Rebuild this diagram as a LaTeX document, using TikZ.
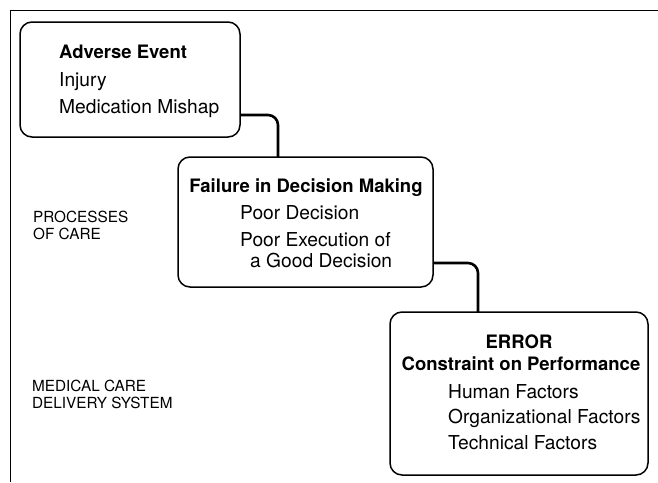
\documentclass[tikz,border=0pt]{standalone}
\usepackage{fontspec}
\setmainfont{TeX Gyre Heros}
\usetikzlibrary{positioning}

\begin{document}
\begin{tikzpicture}[
		x=1pt, y=-1pt,
		box/.style={draw, rounded corners=12pt, line width=1.5pt, inner sep=0pt, outer sep=0pt},
		txt/.style={anchor=base west, inner sep=0pt, font=\fontsize{19.2}{22}\selectfont},
		head/.style={anchor=base west, inner sep=0pt, font=\fontsize{18.5}{22}\selectfont\bfseries},
		zone/.style={anchor=base west, inner sep=0pt, font=\fontsize{15.3}{17}\selectfont},
		link/.style={line width=2.6pt, rounded corners=10pt}
		]
	\useasboundingbox (0,0) rectangle (658,482);
	\draw[line width=1pt] (658,10) -- (10,10) -- (10,482);

	% the three stages
	\node[box, minimum width=220pt, minimum height=115pt] (ae) at (130,79.5) {};
	\node[box, minimum width=255pt, minimum height=130pt] (fd) at (305.5,222) {};
	\node[box, minimum width=258pt, minimum height=163pt] (er) at (519,393.5) {};

	\node[head] (ae-title) at (59,58) {Adverse Event};
	\node[txt] (ae-inj) at (59,86) {Injury};
	\node[txt] (ae-med) at (59,113) {Medication Mishap};

	\node[head, anchor=base] (fd-title) at (306,192) {Failure in Decision Making};
	\node[txt] (fd-poor) at (240,219) {Poor Decision};
	\node[txt] (fd-exec) at (240,246) {Poor Execution of};
	\node[txt] (fd-good) at (250,267) {a Good Decision};

	\node[head, anchor=base] (er-title) at (519,348) {ERROR};
	\node[head, anchor=base] (er-sub) at (521,370) {Constraint on Performance};
	\node[txt] (er-hum) at (448,398) {Human Factors};
	\node[txt] (er-org) at (448,423) {Organizational Factors};
	\node[txt] (er-tec) at (448,449) {Technical Factors};

	% levels
	\node[zone] (pc1) at (33,222) {PROCESSES};
	\node[zone] (pc2) at (33,239) {OF CARE};
	\node[zone] (md1) at (32,391) {MEDICAL CARE};
	\node[zone] (md2) at (32,408) {DELIVERY SYSTEM};

	\draw[link] ([yshift=-35.5pt]ae.east) -| ([xshift=-27.5pt]fd.north);
	\draw[link] ([yshift=-41pt]fd.east) -| ([xshift=-41pt]er.north);

\end{tikzpicture}
\end{document}
